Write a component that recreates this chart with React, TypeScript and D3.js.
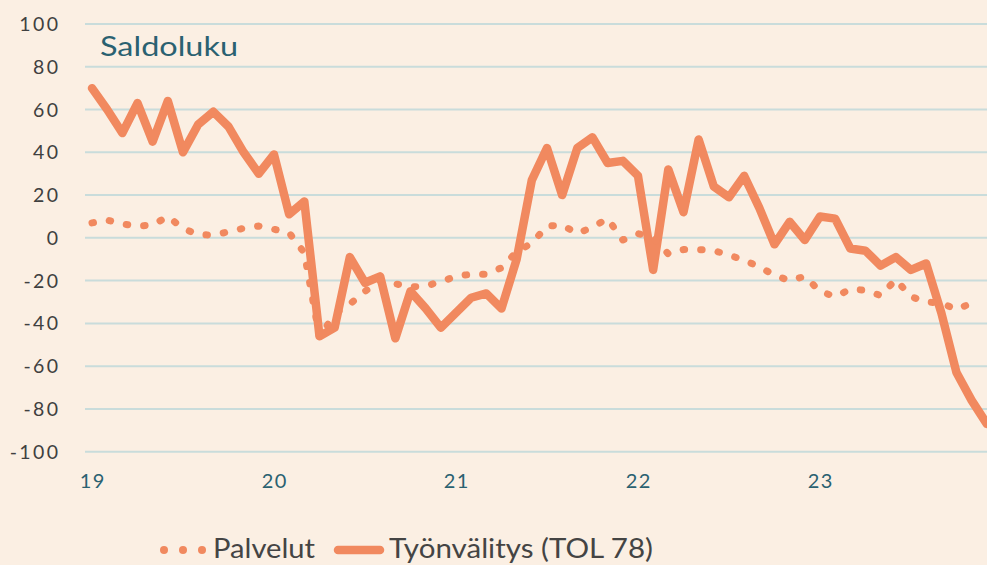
import React from "react";
import * as d3 from "d3";

const yTicks = [100, 80, 60, 40, 20, 0, -20, -40, -60, -80, -100];
const xTickLabels = ["19", "20", "21", "22", "23"];
const xTickIndex = [0, 12, 24, 36, 48];

// Työnvälitys (TOL 78), monthly Jan 2019 – Dec 2023
const tyonvalitys = [
  70, 60, 49, 63, 45, 64, 40, 53, 59, 52, 40, 30,
  39, 11, 17, -46, -42, -9, -21, -18, -47, -25, -33, -42,
  -35, -28, -26, -33, -10, 27, 42, 20, 42, 47, 35, 36,
  29, -15, 32, 12, 46, 24, 19, 29, 14, -3, 7.5, -1,
  10, 9, -5, -6, -13, -9, -15, -12, -35, -63, -76, -87,
];

// Palvelut, monthly Jan 2019 – Nov 2023
const palvelut = [
  7, 8.3, 6.5, 5.5, 6, 10, 4.4, 1.5, 1.3, 2.8, 4.5, 5.5,
  4, 2.4, -7, -46.5, -35.5, -31, -25, -20, -21.5, -23, -22.5, -20.5,
  -18, -17, -17, -14, -6.5, -2.5, 5.5, 6, 2, 5, 9, -1,
  2, 0, -7.5, -5.5, -5.5, -6, -8, -10.5, -13.5, -17.5, -20, -18,
  -25, -27.5, -24, -24.5, -27, -19.5, -27.5, -30, -30.5, -33.5, -30.5,
];

const W = 987;
const H = 565;
const BG = "#fbefe3";
const ORANGE = "#f1895f";
const GRID = "#c9dcdb";
const TEAL = "#2a6171";

export default function App() {
  const x = d3.scaleLinear().domain([0, 59]).range([92, 986.8]);
  const y = d3.scaleLinear().domain([-100, 100]).range([451.7, 24]);
  const line = d3
    .line<number>()
    .x((_, i) => x(i))
    .y((d) => y(d));

  return (
    <div style={{ position: "fixed", left: 0, top: 0, width: W, height: H, background: BG }}>
      <svg width={W} height={H} style={{ display: "block" }} fontFamily="Lato, 'Open Sans', sans-serif">
        <rect x={0} y={0} width={W} height={H} fill={BG} />
        {yTicks.map((t) => (
          <g key={t}>
            <line x1={85} x2={W} y1={y(t)} y2={y(t)} stroke={GRID} strokeWidth={2} />
            <text
              x={60.5}
              y={y(t)}
              dy="0.36em"
              textAnchor="end"
              fontSize={19.5}
              letterSpacing={2.4}
              fill="#404040"
            >
              {t}
            </text>
          </g>
        ))}
        {xTickLabels.map((l, k) => (
          <text
            key={l}
            x={x(xTickIndex[k]) + 0.7}
            y={487.5}
            textAnchor="middle"
            fontSize={20}
            letterSpacing={1.4}
            fill={TEAL}
          >
            {l}
          </text>
        ))}
        <text x={100} y={56} fontSize={27} fill={TEAL} textLength={138} lengthAdjust="spacingAndGlyphs">
          Saldoluku
        </text>
        <path
          d={line(tyonvalitys) || ""}
          fill="none"
          stroke={ORANGE}
          strokeWidth={8.5}
          strokeLinejoin="round"
          strokeLinecap="round"
        />
        <path
          d={line(palvelut) || ""}
          fill="none"
          stroke={ORANGE}
          strokeWidth={7}
          strokeDasharray="1.5 16"
          strokeLinecap="round"
          strokeLinejoin="round"
        />
        {/* legend */}
        {[164, 183, 202].map((cx) => (
          <circle key={cx} cx={cx} cy={550} r={4} fill={ORANGE} />
        ))}
        <text x={213} y={558} fontSize={27} fill="#444" textLength={102} lengthAdjust="spacingAndGlyphs">
          Palvelut
        </text>
        <line x1={338} x2={380} y1={550} y2={550} stroke={ORANGE} strokeWidth={8.5} strokeLinecap="round" />
        <text x={389} y={558} fontSize={27} fill="#444" textLength={264} lengthAdjust="spacingAndGlyphs">
          Työnvälitys (TOL 78)
        </text>
      </svg>
    </div>
  );
}
